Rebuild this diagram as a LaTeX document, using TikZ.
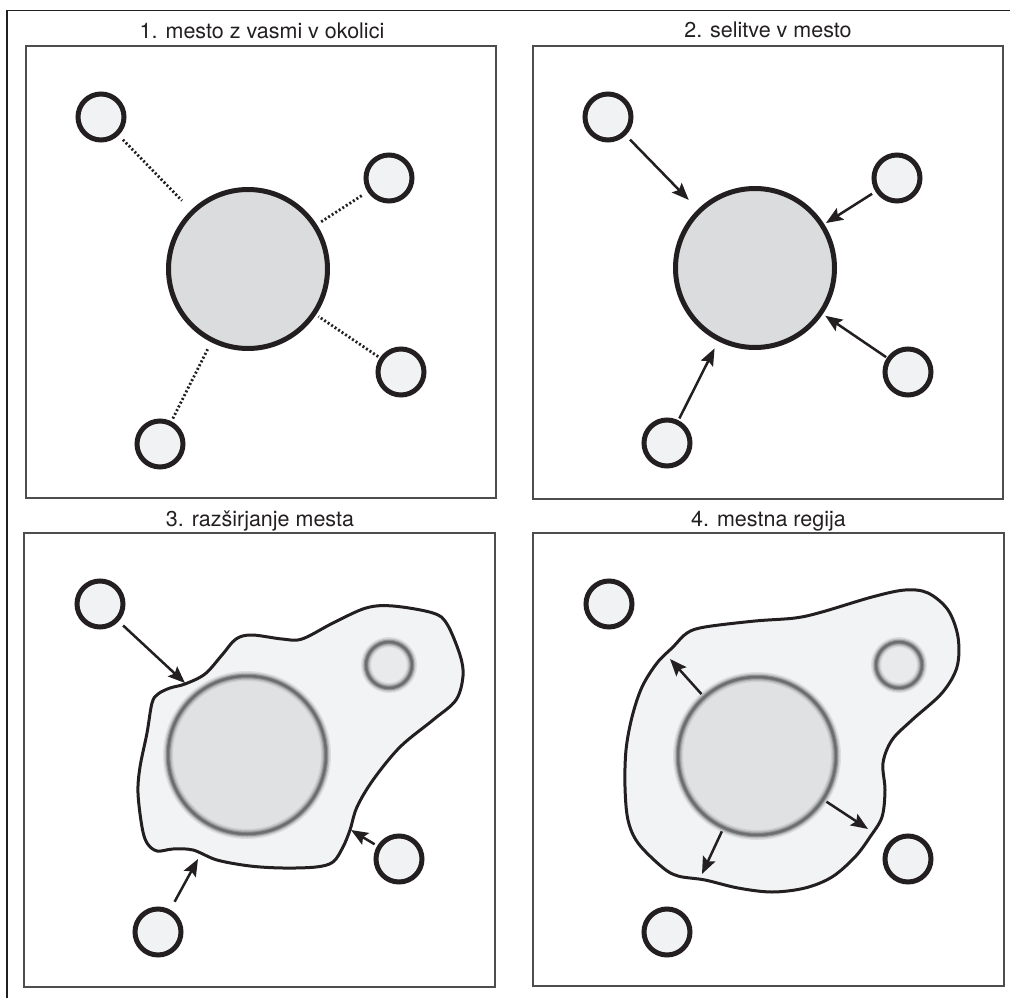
\documentclass[tikz,border=0pt]{standalone}
\usepackage{fontspec}
\setmainfont{TeX Gyre Heros}
\usetikzlibrary{arrows.meta}
\definecolor{ink}{HTML}{231F20}
\definecolor{bigfill}{HTML}{DBDCDE}
\definecolor{smallfill}{HTML}{F1F2F4}
\definecolor{blobfill}{HTML}{F2F3F5}
\definecolor{blurfill}{HTML}{E0E1E3}
\definecolor{blurfilltwo}{HTML}{E9EAEB}
\definecolor{ringgray}{HTML}{626365}
\definecolor{boxgray}{HTML}{4D4D4F}
\tikzset{
  panelbox/.style={draw=boxgray, line width=1.5pt},
  paneltitle/.style={anchor=base, font=\fontsize{21.5}{24}\selectfont, text=ink, inner sep=0pt},
  village/.style={circle, draw=ink, fill=smallfill, line width=5pt, minimum size=46pt, inner sep=0pt},
  town/.style={circle, draw=ink, fill=bigfill, line width=5pt, minimum size=159pt, inner sep=0pt},
  blurring/.style={circle, inner sep=0pt, draw=none,
    postaction={draw=ringgray, draw opacity=0.15, line width=10pt},
    postaction={draw=ringgray, draw opacity=0.25, line width=7pt},
    postaction={draw=ringgray, draw opacity=0.45, line width=4.5pt},
    postaction={draw=ringgray, draw opacity=0.75, line width=2.5pt}},
  blurtown/.style={blurring, fill=blurfill, minimum size=158pt},
  blurvillage/.style={blurring, fill=blurfilltwo, minimum size=46pt},
  blob/.style={draw=ink, fill=blobfill, line width=3pt, line join=round},
  dotline/.style={draw=ink, line width=2.8pt, dash pattern=on 2pt off 2.2pt},
  arrowline/.style={draw=ink, line width=2.5pt, -{Stealth[length=17pt, width=13.5pt, inset=3pt]}},
}
\begin{document}
\begin{tikzpicture}[x=1pt, y=-1pt]
\useasboundingbox (0,0) rectangle (1010,998);
% outer frame (top and left edges)
\draw[draw=ink, line width=1.5pt] (7,998) -- (7,10.5) -- (1010,10.5);

% ---------- panel 1 ----------
\node[paneltitle] (t1) at (262,38.5) {1. mesto z vasmi v okolici};
\draw[panelbox] (26,46) rectangle (496,498);
\node[town] (p1big) at (248,269) {};
\node[village] (p1a) at (101,117) {};
\node[village] (p1b) at (389,178) {};
\node[village] (p1c) at (401,372) {};
\node[village] (p1d) at (160,444) {};
\draw[dotline, shorten <=6pt, shorten >=13pt] (p1a) -- (p1big);
\draw[dotline, shorten <=7pt, shorten >=3pt] (p1b) -- (p1big);
\draw[dotline, shorten <=2pt, shorten >=3pt] (p1c) -- (p1big);
\draw[dotline, shorten <=3pt, shorten >=7pt] (p1d) -- (p1big);

% ---------- panel 2 ----------
\node[paneltitle] (t2) at (768,38) {2. selitve v mesto};
\draw[panelbox] (533,46) rectangle (1003,499);
\node[town] (p2big) at (755,268) {};
\node[village] (p2a) at (608,117) {};
\node[village] (p2b) at (897,178) {};
\node[village] (p2c) at (908,372) {};
\node[village] (p2d) at (667,443) {};
\draw[arrowline, shorten <=6pt, shorten >=13pt] (p2a) -- (p2big);
\draw[arrowline, shorten <=4pt, shorten >=2pt] (p2b) -- (p2big);
\draw[arrowline, shorten <=1pt, shorten >=3pt] (p2c) -- (p2big);
\draw[arrowline, shorten <=2pt, shorten >=8pt] (p2d) -- (p2big);

% ---------- panel 3 ----------
\node[paneltitle] (t3) at (260,526) {3. razširjanje mesta};
\draw[panelbox] (24,533) rectangle (495,987);
\path[blob] plot[smooth cycle, tension=0.55] coordinates {
 (152,703) (158,694) (170,688) (185,684) (205,674) (222,655) (236,639)
 (252,635) (282,639) (302,639) (333,623) (366,608) (393,606) (433,613)
 (447,624) (460,655) (463,676) (456,700) (433,720) (400,747) (373,780)
 (357,807) (350,830) (343,847) (333,862) (316,867) (283,868) (250,866)
 (217,860) (193,850) (173,849) (157,851) (147,843) (142,827) (138,793)
 (140,767) (147,733)};
\node[blurtown] (p3big) at (247,755) {};
\node[blurvillage] (p3e) at (389,665) {};
\node[village] (p3a) at (100,604) {};
\node[village] (p3c) at (399,859) {};
\node[village] (p3d) at (158,932) {};
\coordinate (p3ta) at (185,683);
\coordinate (p3tc) at (351,830);
\coordinate (p3td) at (198,859);
\draw[arrowline, shorten <=6pt] (p3a) -- (p3ta);
\draw[arrowline, shorten <=3pt] (p3c) -- (p3tc);
\draw[arrowline, shorten <=9pt] (p3d) -- (p3td);

% ---------- panel 4 ----------
\node[paneltitle] (t4) at (768.5,526) {4. mestna regija};
\draw[panelbox] (533,533) rectangle (1004,986);
\path[blob] plot[smooth cycle, tension=0.55] coordinates {
 (687,633) (705,627) (755,621) (795,618) (822,612) (872,597) (905,590)
 (928,593) (948,610) (958,637) (957,667) (942,693) (912,720) (892,740)
 (883,763) (885,790) (882,817) (870,837) (855,857) (832,877) (805,888)
 (772,892) (738,888) (705,880) (678,876) (662,867) (638,843) (628,820)
 (625,787) (626,750) (632,717) (642,687) (657,663) (673,647)};
\node[blurtown] (p4big) at (757,756) {};
\node[blurvillage] (p4e) at (899,665) {};
\node[village] (p4a) at (609,604) {};
\node[village] (p4c) at (908,859) {};
\node[village] (p4d) at (667,932) {};
\coordinate (p4ta) at (670,659);
\coordinate (p4tc) at (868,829);
\coordinate (p4td) at (702,874);
\draw[arrowline, shorten <=4pt] (p4big) -- (p4ta);
\draw[arrowline, shorten <=4pt] (p4big) -- (p4tc);
\draw[arrowline, shorten <=4pt] (p4big) -- (p4td);
\end{tikzpicture}
\end{document}
